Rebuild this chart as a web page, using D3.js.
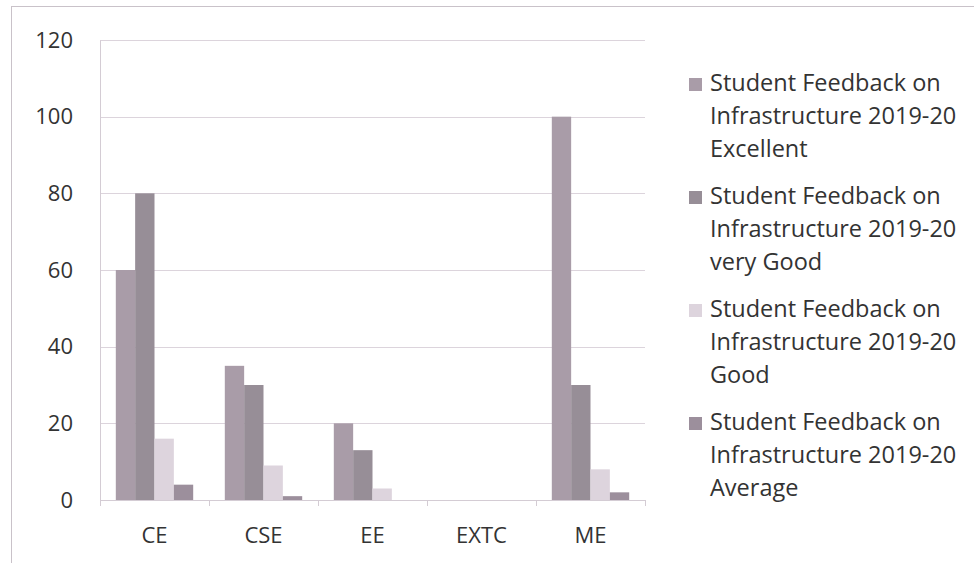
<!DOCTYPE html>
<html>
<head>
<meta charset="utf-8">
<script src="https://cdn.jsdelivr.net/npm/d3@7"></script>
<style>
  body { margin: 0; background: #fff; }
  svg { display: block; font-family: "Open Sans", "Noto Sans", sans-serif; }
</style>
</head>
<body>
<div id="chart"></div>
<script>
var WIDTH = 974;
var HEIGHT = 563;

var categories = ["CE", "CSE", "EE", "EXTC", "ME"];
var seriesNames = [
    ["Student Feedback on", "Infrastructure 2019-20", "Excellent"],
    ["Student Feedback on", "Infrastructure 2019-20", "very Good"],
    ["Student Feedback on", "Infrastructure 2019-20", "Good"],
    ["Student Feedback on", "Infrastructure 2019-20", "Average"]
];
var excellent = [60, 35, 20, 0, 100];
var veryGood = [80, 30, 13, 0, 30];
var good = [16, 9, 3, 0, 8];
var average = [4, 1, 0, 0, 2];
var yTicks = [0, 20, 40, 60, 80, 100, 120];

var COLORS = ["#a99ca8", "#978e97", "#ddd4dd", "#9c8f9c"];
var series = [excellent, veryGood, good, average];

var SVG = d3.select("#chart").append("svg")
    .attr("width", WIDTH)
    .attr("height", HEIGHT);

// outer chart frame
SVG.append("rect")
    .attr("x", 11.5).attr("y", 6.5)
    .attr("width", WIDTH + 20).attr("height", HEIGHT + 20)
    .attr("fill", "none")
    .attr("stroke", "#c9c2c9");

var x0 = d3.scaleBand()
    .domain(categories)
    .range([100, 645])
    .paddingInner(0.29)
    .paddingOuter(0.145);

var x1 = d3.scaleBand()
    .domain(d3.range(series.length))
    .range([0, x0.bandwidth()]);

var y = d3.scaleLinear()
    .domain([0, 120])
    .range([500, 40]);

// gridlines
SVG.append("g")
    .selectAll("line")
    .data(yTicks.filter(d => d > 0))
    .enter().append("line")
    .attr("x1", 100).attr("x2", 645)
    .attr("y1", d => Math.round(y(d)) + 0.5)
    .attr("y2", d => Math.round(y(d)) + 0.5)
    .attr("stroke", "#dcd4dc");

// bars
var groups = SVG.append("g")
    .selectAll("g")
    .data(categories)
    .enter().append("g")
    .attr("transform", d => "translate(" + x0(d) + ",0)");

groups.selectAll("rect")
    .data((d, i) => series.map((s, k) => ({ k: k, v: s[i] })))
    .enter().append("rect")
    .attr("x", d => x1(d.k))
    .attr("width", x1.bandwidth())
    .attr("y", d => y(d.v))
    .attr("height", d => y(0) - y(d.v))
    .attr("fill", d => COLORS[d.k]);

// y axis
var yAxis = SVG.append("g")
    .attr("transform", "translate(100,0)")
    .call(d3.axisLeft(y).tickValues(yTicks).tickSize(0).tickPadding(27));
yAxis.select(".domain").attr("stroke", "#d4ccd4");
yAxis.selectAll("text")
    .attr("font-size", 22)
    .attr("fill", "#333")
    .attr("font-family", "'Open Sans', sans-serif");

// x axis
var xAxis = SVG.append("g")
    .attr("transform", "translate(0,500)")
    .call(d3.axisBottom(x0).tickSize(0).tickPadding(27));
xAxis.select(".domain").attr("stroke", "#d4ccd4");
xAxis.selectAll("text")
    .attr("font-size", 22)
    .attr("fill", "#333")
    .attr("font-family", "'Open Sans', sans-serif");

// category separators
SVG.append("g")
    .selectAll("line")
    .data(d3.range(categories.length + 1))
    .enter().append("line")
    .attr("x1", d => Math.round(100 + d * (545 / categories.length)) + 0.5)
    .attr("x2", d => Math.round(100 + d * (545 / categories.length)) + 0.5)
    .attr("y1", 500).attr("y2", 506)
    .attr("stroke", "#d4ccd4");

// legend
var legend = SVG.append("g")
    .selectAll("g")
    .data(seriesNames)
    .enter().append("g")
    .attr("transform", (d, i) => "translate(689," + (91 + i * 113) + ")");

legend.append("rect")
    .attr("x", 0).attr("y", -13)
    .attr("width", 13).attr("height", 13)
    .attr("fill", (d, i) => COLORS[i]);

legend.append("text")
    .attr("x", 21)
    .attr("fill", "#333")
    .attr("font-size", 23.5)
    .selectAll("tspan")
    .data(d => d)
    .enter().append("tspan")
    .attr("x", 21)
    .attr("y", (d, i) => i * 33)
    .text(d => d);
</script>
</body>
</html>
